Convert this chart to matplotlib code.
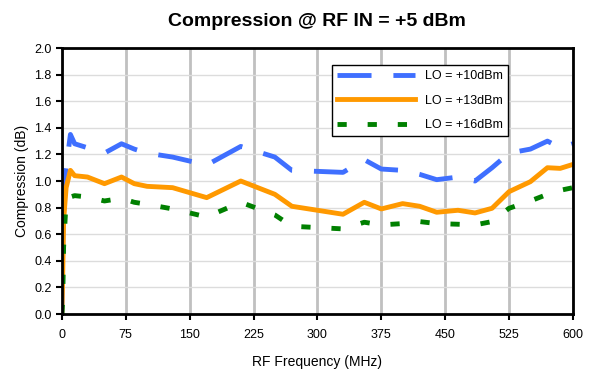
import matplotlib
matplotlib.use('Agg')
import matplotlib.pyplot as plt

plt.rcParams['font.family'] = ['Liberation Sans', 'DejaVu Sans']

freq = [0, 1, 2, 5, 10, 15, 30, 50, 70, 85, 100, 130, 170, 210, 250, 270, 330, 355, 375,
        400, 420, 440, 465, 485, 505, 525, 550, 570, 585, 600]
lo10 = [0, 0.5, 0.96, 1.1, 1.35, 1.28, 1.25, 1.21, 1.28, 1.24, 1.21, 1.18, 1.12, 1.26, 1.18,
        1.08, 1.065, 1.16, 1.09, 1.08, 1.05, 1.01, 1.03, 1.0, 1.1, 1.21, 1.24, 1.30, 1.25, 1.28]
lo13 = [0, 0.3, 0.7, 0.95, 1.08, 1.04, 1.03, 0.98, 1.03, 0.98, 0.96, 0.95, 0.875, 1.0, 0.9,
        0.81, 0.75, 0.84, 0.79, 0.83, 0.81, 0.765, 0.78, 0.76, 0.795, 0.92, 0.995, 1.10, 1.095, 1.125]
lo16 = [0, 0.1, 0.5, 0.85, 0.88, 0.89, 0.88, 0.85, 0.87, 0.84, 0.825, 0.79, 0.73, 0.84, 0.745,
        0.66, 0.64, 0.69, 0.67, 0.68, 0.695, 0.68, 0.675, 0.67, 0.695, 0.795, 0.85, 0.90, 0.93, 0.95]

fig = plt.figure(figsize=(5.95, 3.71), dpi=100)
ax = fig.add_axes([0.104, 0.1536, 0.859, 0.717])

ax.plot(freq, lo10, color='#3F6FFF', lw=3.5, dashes=(7, 4.5), label='LO = +10dBm')
ax.plot(freq, lo13, color='#FF9900', lw=3.5, label='LO = +13dBm')
ax.plot(freq, lo16, color='#008000', lw=3.5, dashes=(1.9, 4.3), label='LO = +16dBm')

ax.set_xlim(0, 600)
ax.set_ylim(0, 2.0)
ax.set_xticks(range(0, 601, 75))
ax.set_yticks([i / 10 for i in range(0, 21, 2)])
ax.set_yticklabels(['%.1f' % (i / 10) for i in range(0, 21, 2)])
ax.tick_params(labelsize=9, direction='out', length=4, width=1.5, colors='black')
ax.tick_params(axis='x', pad=7)

ax.grid(axis='x', color='#c0c0c0', lw=2)
ax.grid(axis='y', color='#dcdcdc', lw=1)
ax.set_axisbelow(True)
for s in ax.spines.values():
    s.set_linewidth(2)

ax.set_xlabel('RF Frequency (MHz)', fontsize=10, labelpad=10)
ax.set_ylabel('Compression (dB)', fontsize=10)
ax.set_title('Compression @ RF IN = +5 dBm', fontsize=14, fontweight='bold', pad=16)

leg = ax.legend(loc='upper left', bbox_to_anchor=(0.528, 0.935), fontsize=9, handlelength=6.3,
                labelspacing=1.0, fancybox=False, framealpha=1, edgecolor='black',
                borderaxespad=0)
leg.get_frame().set_linewidth(1)

fig.savefig('out.png', dpi=100)
